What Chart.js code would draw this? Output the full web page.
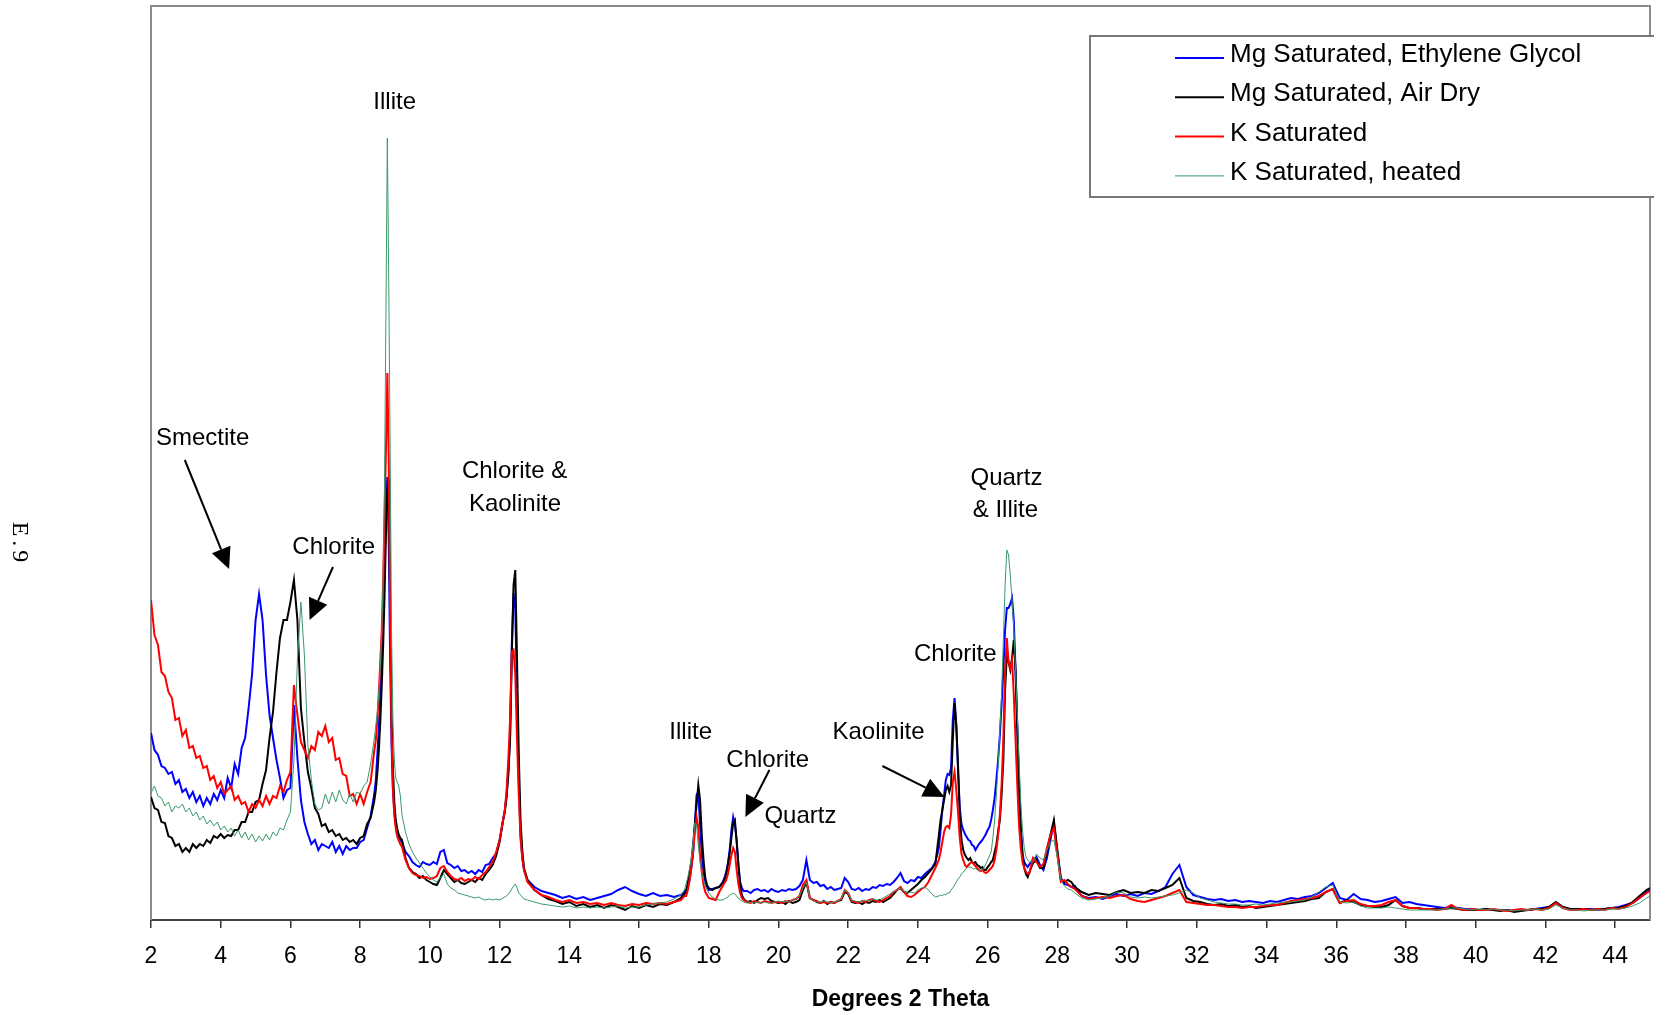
<!DOCTYPE html>
<html>
<head>
<meta charset="utf-8">
<title>E.9 - XRD clay fraction</title>
<script src="https://cdn.jsdelivr.net/npm/chart.js@4.4.0/dist/chart.umd.min.js"></script>
<style>
  html, body { margin: 0; padding: 0; background: #fff; }
  canvas { display: block; }
</style>
</head>
<body>
<canvas id="xrdChart" width="1654" height="1017"></canvas>
<script>
// 2-theta positions (degrees), shared by the four scans
const twoTheta = [
  2.0,2.1,2.2,2.3,2.4,2.5,2.6,2.7,2.8,2.9,3.0,3.1,3.2,3.3,3.4,3.5,3.6,3.7,3.8,3.9,
  4.0,4.1,4.2,4.3,4.4,4.5,4.6,4.7,4.8,4.9,5.0,5.1,5.2,5.3,5.4,5.5,5.6,5.7,5.8,5.9,
  6.0,6.1,6.2,6.3,6.4,6.5,6.6,6.7,6.8,6.9,7.0,7.1,7.2,7.3,7.4,7.5,7.6,7.7,7.8,7.9,
  8.0,8.1,8.2,8.3,8.4,
  8.45,8.5,8.54,8.58,8.62,8.66,8.7,8.74,8.78,8.82,8.86,8.9,8.94,8.98,9.02,9.06,9.1,9.15,9.2,
  9.3,9.4,9.5,9.6,9.7,9.8,9.9,10.0,10.1,10.2,10.3,10.4,10.5,10.6,10.7,10.8,10.9,
  11.0,11.1,11.2,11.3,11.4,11.5,11.6,11.7,11.8,11.9,12.0,12.1,
  12.15,12.2,12.25,12.3,12.35,12.4,12.45,12.5,12.55,12.6,12.65,12.7,
  12.8,13.0,13.2,13.4,13.6,13.8,14.0,14.2,14.4,14.6,14.8,15.0,15.2,15.4,15.6,15.8,
  16.0,16.2,16.4,16.6,16.8,17.0,17.2,17.3,
  17.35,17.4,17.45,17.5,17.55,17.6,17.65,17.7,17.75,17.8,17.85,17.9,17.95,18.0,
  18.1,18.2,18.3,18.4,
  18.45,18.5,18.55,18.6,18.65,18.7,18.75,18.8,18.85,18.9,18.95,19.0,
  19.1,19.2,19.3,19.4,19.5,19.6,19.7,19.8,19.9,20.0,20.1,20.2,20.3,20.4,20.5,20.6,20.7,20.8,20.9,
  21.0,21.1,21.2,21.3,21.4,21.5,21.6,21.7,21.8,21.9,22.0,22.1,22.2,22.3,22.4,22.5,22.6,22.7,22.8,22.9,
  23.0,23.1,23.2,23.3,23.4,23.5,23.6,23.7,23.8,23.9,24.0,24.1,24.2,24.3,24.4,24.5,24.6,
  24.65,24.7,24.75,24.8,24.85,24.9,24.95,25.0,25.05,25.1,25.15,25.2,25.25,25.3,25.35,25.4,25.45,25.5,25.55,25.6,
  25.65,25.7,25.75,25.8,25.85,25.9,25.95,26.0,26.05,26.1,26.15,26.2,26.25,26.3,26.35,26.4,26.45,26.5,26.55,26.6,
  26.65,26.7,26.75,26.8,26.85,26.9,26.95,27.0,27.05,27.1,27.15,27.2,
  27.3,27.4,27.5,27.6,27.7,27.8,27.9,28.0,28.1,28.2,28.3,28.4,28.5,
  28.7,28.9,29.1,29.3,29.5,29.7,29.9,30.1,30.3,30.5,30.7,30.9,31.1,31.3,31.5,31.7,31.9,32.1,32.3,32.5,
  32.7,32.9,33.1,33.3,33.5,33.7,33.9,34.1,34.3,34.5,34.7,34.9,35.1,35.3,35.5,35.7,35.9,36.1,36.3,36.5,
  36.7,36.9,37.1,37.3,37.5,37.7,37.9,38.1,38.3,38.5,38.7,38.9,39.1,39.3,39.5,39.7,39.9,40.1,40.3,40.5,
  40.7,40.9,41.1,41.3,41.5,41.7,41.9,42.1,42.3,42.5,42.7,42.9,43.1,43.3,43.5,43.7,43.9,44.1,44.3,44.5,
  44.7,44.9,45.0
];

// intensities (relative counts)
const mgGlycol = [
  187,170,165,154,152,146,148,136,140,128,131,122,128,118,124,114,122,116,126,120,
  130,122,142,132,156,146,172,182,212,246,300,326,300,245,205,182,160,142,122,130,
  132,215,162,120,98,86,76,80,70,76,74,72,78,68,74,66,74,70,72,72,
  78,80,92,104,125,
  140,170,195,225,265,310,370,420,443,380,260,175,130,108,96,88,84,80,78,
  68,64,58,55,53,58,56,55,58,56,68,70,57,55,52,54,49,
  50,47,49,46,50,48,55,56,62,66,80,100,
  110,125,150,185,275,327,310,225,140,85,62,50,
  40,33,29,27,25,22,24,21,23,20,22,24,26,30,33,29,
  26,24,27,24,25,23,25,28,
  30,33,40,52,66,95,125,128,95,65,48,38,33,30,
  31,32,33,38,
  42,48,57,70,90,103,95,80,55,38,32,29,
  29,27,30,31,29,30,28,31,29,28,30,29,31,30,31,34,40,60,40,
  37,38,34,35,31,33,30,31,32,42,38,31,30,32,29,31,30,33,32,35,
  34,36,35,38,42,47,39,37,40,39,43,42,46,49,52,58,72,
  90,110,125,140,146,145,152,200,222,195,150,112,96,90,86,83,80,79,75,74,
  70,73,76,78,80,83,86,90,93,100,110,122,140,160,185,215,250,290,312,312,
  316,322,300,250,195,140,95,66,58,55,53,56,
  60,63,55,50,62,80,97,68,42,36,35,33,34,
  24,22,23,21,24,26,24,26,24,27,26,29,33,46,55,33,25,23,21,20,
  21,19,20,18,19,18,17,19,18,20,22,21,23,24,27,32,37,22,20,26,
  21,20,18,19,21,23,17,18,16,15,14,13,12,13,12,11,11,10,11,10,
  10,10,9,10,10,11,12,13,17,13,11,10,11,11,10,11,12,13,15,17,
  22,28,30
];
const mgAirDry = [
  123,112,110,98,97,84,82,74,76,68,72,68,76,72,76,74,80,77,84,82,
  86,82,85,84,90,90,98,98,108,108,118,120,136,150,182,208,248,282,300,300,
  318,340,300,212,178,148,132,112,106,94,96,88,90,84,86,80,82,78,80,76,
  82,84,96,102,118,
  130,150,172,200,235,275,325,385,430,440,320,205,150,118,100,92,86,82,80,
  62,52,48,46,42,44,40,38,36,35,42,50,46,42,38,40,37,
  36,38,40,38,42,40,46,50,55,64,78,100,
  108,123,145,180,265,335,350,260,165,100,70,52,
  40,30,25,21,19,16,18,14,16,13,15,12,15,13,10,14,
  12,15,13,16,15,18,22,26,
  28,38,47,58,75,95,115,135,120,85,60,42,35,32,
  30,32,33,37,
  40,46,55,67,82,97,100,78,55,35,25,21,
  18,19,17,20,22,21,22,19,18,17,18,16,19,17,18,20,30,38,22,
  20,18,17,19,16,18,17,19,20,28,26,18,17,18,16,18,17,19,18,20,
  18,20,22,26,30,32,28,27,30,33,36,40,43,47,51,56,85,
  100,110,120,130,134,128,135,180,217,195,155,105,80,70,65,62,60,62,58,57,
  58,55,54,52,53,50,50,53,55,58,60,68,75,88,100,125,160,230,265,258,
  250,262,280,250,190,130,90,65,52,46,43,48,
  57,60,52,52,68,85,100,70,40,38,40,38,33,
  28,25,27,26,25,28,30,27,28,27,30,29,32,35,42,22,19,18,16,15,
  16,14,15,13,14,12,13,14,15,16,17,18,19,21,22,28,31,17,20,18,
  15,14,13,13,15,20,14,12,12,11,11,11,11,12,11,10,10,10,11,10,
  9,10,8,9,10,11,11,13,18,13,11,11,11,10,11,11,12,12,14,18,
  24,30,32
];
const kSaturated = [
  320,285,275,248,244,228,222,200,202,184,190,172,174,162,164,152,154,140,144,132,
  138,126,130,134,120,124,116,118,108,116,112,120,114,124,116,124,122,134,128,140,
  148,235,205,178,170,162,174,170,188,184,194,178,182,160,162,146,144,124,126,116,
  126,116,128,138,168,
  180,205,230,260,290,340,405,470,547,460,300,190,130,104,92,84,80,76,73,
  60,52,47,45,44,42,43,41,42,44,52,54,48,44,41,40,42,
  39,41,40,43,41,45,48,53,58,68,80,100,
  110,130,160,200,268,270,245,180,125,82,62,50,
  38,30,25,23,20,18,20,17,18,16,17,15,17,15,14,16,
  15,17,16,17,16,18,20,24,
  24,30,40,53,68,88,103,92,65,48,35,28,25,22,
  21,20,28,34,
  37,40,46,55,65,72,68,50,36,27,22,20,
  18,17,19,18,17,19,18,17,18,18,17,19,18,20,21,24,35,40,22,
  20,19,17,18,17,18,17,19,21,30,27,19,18,17,19,18,20,21,19,18,
  20,22,24,28,30,33,28,24,23,25,28,31,33,38,45,52,60,
  68,78,88,93,94,92,105,138,148,130,108,82,66,60,55,53,55,57,58,56,
  54,52,50,49,50,48,47,48,50,52,54,60,70,85,105,135,180,250,282,258,
  252,260,225,180,135,95,72,58,52,48,46,47,
  62,58,53,56,72,85,92,65,38,40,36,33,31,
  24,21,22,23,22,24,25,21,19,18,20,22,24,27,30,18,17,16,15,15,
  14,13,13,12,13,13,14,15,15,17,19,20,21,22,24,28,31,17,19,20,
  16,14,14,15,18,20,14,12,12,11,11,10,11,15,11,10,11,10,10,11,
  10,9,10,11,10,11,10,12,17,12,10,10,11,10,11,10,12,11,13,17,
  22,27,29
];
const kHeated = [
  127,134,124,122,114,118,108,114,112,116,108,112,104,108,100,104,96,100,94,98,
  90,94,88,92,84,90,82,88,80,86,78,84,79,86,80,88,84,92,90,100,
  108,160,260,318,265,175,140,116,110,112,126,116,128,118,130,120,116,126,118,128,
  126,134,138,156,180,
  195,210,230,255,290,340,440,610,782,640,470,290,200,160,142,138,135,125,105,
  88,76,68,62,57,52,47,43,40,38,42,46,36,32,30,27,26,
  25,24,23,22,23,21,20,21,20,21,20,22,
  23,24,26,28,31,34,36,32,27,25,23,21,
  20,18,16,15,14,13,14,12,13,12,13,12,13,14,12,13,
  13,15,16,17,18,21,25,30,
  36,43,52,62,78,97,95,75,58,47,40,34,30,27,
  23,21,20,20,
  21,22,23,25,26,27,26,24,22,20,19,18,
  17,18,17,18,17,18,17,17,18,19,18,19,18,20,21,24,32,38,22,
  19,18,18,19,18,17,18,19,21,30,27,20,19,18,19,20,19,21,20,20,
  22,24,26,28,30,32,29,27,28,27,30,32,33,30,26,23,24,
  25,24,26,25,27,27,30,32,35,38,41,43,46,48,50,52,53,53,52,51,
  52,50,49,50,50,53,56,60,64,68,82,100,125,155,190,225,280,335,370,365,
  345,320,292,250,205,160,118,90,72,63,60,58,
  58,66,62,60,70,78,80,62,40,34,31,30,27,
  22,20,21,22,24,28,27,23,22,23,22,23,24,25,27,30,27,22,20,18,
  17,16,16,15,15,16,15,16,17,18,18,19,20,23,28,33,35,18,17,18,
  14,12,12,12,13,12,11,10,10,10,10,10,11,12,12,11,10,11,10,11,
  10,10,9,10,10,11,10,11,15,12,10,10,9,10,10,10,11,11,12,14,
  17,22,24
];

const seriesNames = ['Mg Saturated, Ethylene Glycol', 'Mg Saturated, Air Dry', 'K Saturated', 'K Saturated, heated'];
const seriesColors = ['#0000ff', '#000000', '#ff0000', '#3a996b'];
const seriesWidths = [2, 2, 2, 1];
const xTicks = [2, 4, 6, 8, 10, 12, 14, 16, 18, 20, 22, 24, 26, 28, 30, 32, 34, 36, 38, 40, 42, 44];

// mineral labels: [2-theta, intensity, text]
const peakLabels = [
  [3.48, 482, 'Smectite'],
  [7.24, 373, 'Chlorite'],
  [8.99, 818, 'Illite'],
  [12.43, 449, 'Chlorite &'],
  [12.44, 416, 'Kaolinite'],
  [17.48, 188, 'Illite'],
  [19.69, 160, 'Chlorite'],
  [20.63, 104, 'Quartz'],
  [22.87, 188, 'Kaolinite'],
  [25.07, 266, 'Chlorite'],
  [26.54, 442, 'Quartz'],
  [26.51, 410, '& Illite']
];
// arrows: [from 2-theta, from intensity, to 2-theta, to intensity]
const arrows = [
  [2.97, 460, 4.24, 351],
  [7.22, 353, 6.55, 300],
  [19.74, 150, 19.05, 103],
  [22.98, 154, 24.76, 123]
];

const FONT = "'Liberation Sans', Arial, sans-serif";

const decorations = {
  id: 'decorations',
  beforeDatasetsDraw(chart) {
    const { ctx, chartArea: a } = chart;
    ctx.save();
    ctx.strokeStyle = '#8c8c8c';
    ctx.lineWidth = 2;
    ctx.beginPath();
    ctx.moveTo(a.left, a.bottom);
    ctx.lineTo(a.left, a.top);
    ctx.lineTo(a.right, a.top);
    ctx.lineTo(a.right, a.bottom);
    ctx.stroke();
    ctx.restore();
  },
  afterDraw(chart) {
    const { ctx, scales: { x, y } } = chart;
    ctx.save();

    // mineral labels
    ctx.fillStyle = '#000';
    ctx.font = '24px ' + FONT;
    ctx.textAlign = 'center';
    ctx.textBaseline = 'middle';
    peakLabels.forEach(([t, v, text]) => {
      ctx.fillText(text, x.getPixelForValue(t), y.getPixelForValue(v));
    });

    // arrows
    ctx.strokeStyle = '#000';
    ctx.lineWidth = 2;
    arrows.forEach(([t0, v0, t1, v1]) => {
      const x0 = x.getPixelForValue(t0), y0 = y.getPixelForValue(v0);
      const x1 = x.getPixelForValue(t1), y1 = y.getPixelForValue(v1);
      const len = Math.hypot(x1 - x0, y1 - y0);
      const ux = (x1 - x0) / len, uy = (y1 - y0) / len;
      const head = 21, half = 10;
      const bx = x1 - ux * head, by = y1 - uy * head;
      ctx.beginPath();
      ctx.moveTo(x0, y0);
      ctx.lineTo(bx, by);
      ctx.stroke();
      ctx.beginPath();
      ctx.moveTo(x1, y1);
      ctx.lineTo(bx - uy * half, by + ux * half);
      ctx.lineTo(bx + uy * half, by - ux * half);
      ctx.closePath();
      ctx.fill();
    });

    // legend box
    const box = { left: 1090, top: 36, bottom: 197 };
    ctx.fillStyle = '#fff';
    ctx.fillRect(box.left, box.top, chart.width - box.left + 10, box.bottom - box.top);
    ctx.strokeStyle = '#777';
    ctx.lineWidth = 2;
    ctx.strokeRect(box.left, box.top, chart.width - box.left + 10, box.bottom - box.top);
    ctx.font = '26px ' + FONT;
    ctx.textAlign = 'left';
    ctx.textBaseline = 'middle';
    seriesNames.forEach((name, i) => {
      const ly = 58 + i * 39.3;
      ctx.strokeStyle = seriesColors[i];
      ctx.lineWidth = seriesWidths[i];
      ctx.beginPath();
      ctx.moveTo(1175, ly);
      ctx.lineTo(1224, ly);
      ctx.stroke();
      ctx.fillStyle = '#000';
      ctx.fillText(name, 1230, ly - 3);
    });

    // page label
    ctx.translate(19, 542);
    ctx.rotate(Math.PI / 2);
    ctx.font = "24px 'Liberation Serif', 'Times New Roman', serif";
    ctx.letterSpacing = '4px';
    ctx.textAlign = 'center';
    ctx.fillText('E.9', 2, 0);
    ctx.restore();
  }
};

const scans = [mgGlycol, mgAirDry, kSaturated, kHeated];

new Chart(document.getElementById('xrdChart'), {
  type: 'line',
  data: {
    datasets: scans.map((values, i) => ({
      label: seriesNames[i],
      data: twoTheta.map((t, j) => ({ x: t, y: values[j] })),
      borderColor: seriesColors[i],
      borderWidth: seriesWidths[i],
      pointRadius: 0,
      tension: 0,
      fill: false,
      order: 4 - i
    }))
  },
  options: {
    responsive: false,
    animation: false,
    layout: { padding: { left: 151, top: 6, right: 4, bottom: 0 } },
    plugins: {
      legend: { display: false },
      tooltip: { enabled: false }
    },
    scales: {
      x: {
        type: 'linear',
        min: 2,
        max: 45,
        afterBuildTicks: scale => { scale.ticks = xTicks.map(value => ({ value })); },
        afterFit: scale => { scale.height = 97; scale.paddingLeft = 0; scale.paddingRight = 0; },
        ticks: {
          autoSkip: false,
          maxRotation: 0,
          padding: 15,
          color: '#000',
          font: { family: FONT, size: 23 }
        },
        grid: {
          drawOnChartArea: false,
          drawTicks: true,
          tickLength: 8,
          color: '#333',
          lineWidth: 1.5
        },
        border: { display: true, color: '#404040', width: 2 },
        title: {
          display: true,
          text: 'Degrees 2 Theta',
          color: '#000',
          font: { family: FONT, size: 23, weight: 'bold' },
          padding: { top: 0, bottom: 4 }
        }
      },
      y: { display: false, min: 0, max: 914 }
    }
  },
  plugins: [decorations]
});
</script>
</body>
</html>
